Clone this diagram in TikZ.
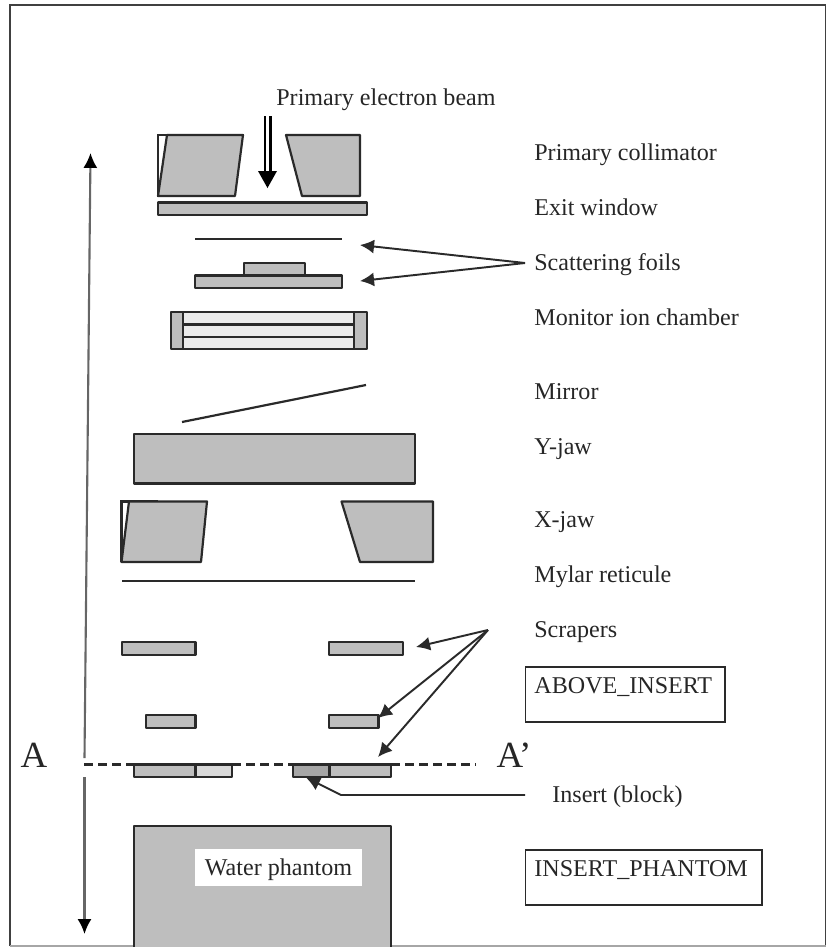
\documentclass[tikz,border=0pt]{standalone}
\usepackage{fontspec}
\setmainfont{Liberation Serif}
\usetikzlibrary{arrows.meta,positioning,calc}
\definecolor{partgray}{HTML}{BEBEBE}
\definecolor{inklines}{HTML}{2A2A2A}
\tikzset{
  part/.style={draw=inklines,line width=1.25pt,fill=partgray,line join=round},
  foilline/.style={draw=inklines,line width=1.25pt},
  lbl/.style={anchor=west,inner xsep=.2cm,inner ysep=0pt,text height=9pt,text depth=3pt,font=\fontsize{13.7}{16}\selectfont,text=black!85},
  lblbox/.style={draw=inklines,line width=1.1pt,align=left,anchor=west,inner xsep=.18cm,inner ysep=0pt,text height=.52cm,text depth=.58cm,font=\fontsize{13.7}{16}\selectfont,text=black!85},
  ptr/.style={draw=inklines,line width=1.1pt,-{Latex[length=8pt,width=8pt]}},
  depthptr/.style={draw=black!60,line width=1.2pt,-{Latex[length=8.5pt,width=8pt,color=black]}},
}
\begin{document}
\begin{tikzpicture}[x=.02cm,y=-.02cm]
    \useasboundingbox (0,0) rectangle (826,947);
    % frame
    \draw[line width=1.1pt,black!75] (10,946) -- (10,5) -- (825.5,5) -- (825.5,946);
    \draw[line width=.8pt,black!35] (10,946) -- (825.5,946);

    % beam
    \node[lbl,inner xsep=0pt] (beam) at (276,100) {Primary electron beam};
    \coordinate (beamtip) at (267.5,188);
    \draw[line width=1.2pt] (265,116) -- (265,172);
    \draw[line width=1.2pt] (270.5,116) -- (270.5,172);
    \fill (258,171) -- (277,171) -- (beamtip) -- cycle;

    % primary collimator
    \draw[foilline] (158,197) -- (158,135) -- (195,135);
    \draw[part] (158,196) -- (167,135) -- (243,135) -- (235,196) -- cycle;
    \draw[part] (286,135) -- (360,135) -- (360,196) -- (302,196) -- cycle;
    \draw[part] (158,202.5) rectangle (367,215);

    % foils
    \coordinate (foilupl) at (195,239);
    \coordinate (foilupr) at (342,239);
    \draw[foilline] (foilupl) -- (foilupr);
    \draw[part] (244,263) rectangle (305,275.5);
    \draw[part] (195,275.5) rectangle (342,288);

    % chamber
    \draw[part,fill=black!8] (183,312) rectangle (354,324.5);
    \draw[part,fill=black!8] (183,324.5) rectangle (354,337);
    \draw[part,fill=black!8] (183,337) rectangle (354,349);
    \draw[part] (171,312) rectangle (183,349);
    \draw[part] (354,312) rectangle (367,349);

    % mirror
    \coordinate (mirrorl) at (182,422);
    \coordinate (mirrorr) at (366,385);
    \draw[foilline] (mirrorl) -- (mirrorr);

    % jaws
    \draw[part] (134,434) rectangle (415,483.5);
    \draw[foilline] (121.5,562) -- (121.5,501.5) -- (158,501.5);
    \draw[part] (121.5,562) -- (129,501.5) -- (207,501.5) -- (201,562) -- cycle;
    \draw[part] (341.5,501.5) -- (433,501.5) -- (433,562) -- (360,562) -- cycle;

    % reticule
    \coordinate (mylarl) at (122,581);
    \coordinate (mylarr) at (415,581);
    \draw[foilline] (mylarl) -- (mylarr);

    % scrapers
    \draw[part] (122,642) rectangle (195.5,655);
    \draw[part] (329,642) rectangle (403,655);
    \draw[part] (146,715) rectangle (195.5,728);
    \draw[part] (329,715) rectangle (378.5,728);
    \draw[part] (134,764.5) rectangle (195.5,777);
    \draw[part,fill=black!15] (195.5,764.5) rectangle (232,777);
    \draw[part,fill=black!35] (293,764.5) rectangle (329.5,777);
    \draw[part] (329.5,764.5) rectangle (391,777);

    % section line
    \node[font=\fontsize{21}{24}\selectfont,text=black!85] (secA) at (34,755) {A};
    \node[font=\fontsize{21}{24}\selectfont,text=black!85] (secB) at (514,755) {A’};
    \coordinate (secl) at (84,764.5);
    \coordinate (secr) at (476,764.5);
    \draw[foilline,dash pattern=on 5pt off 3pt] (secl) -- (134,764.5);
    \draw[foilline,dash pattern=on 5pt off 3pt] (232,764.5) -- (293,764.5);
    \draw[foilline,dash pattern=on 5pt off 3pt] (391,764.5) -- (secr);

    % phantom
    \draw[part] (134,947) -- (134,826) -- (391,826) -- (391,947);
    \node[fill=white,minimum width=3.34cm,minimum height=.74cm,inner sep=0pt,text height=12pt,text depth=2.4pt,font=\fontsize{13.7}{16}\selectfont,text=black!85] (water) at (278.5,867.5) {Water phantom};

    % depth arrows
    \coordinate (depthup) at (90.5,153);
    \coordinate (depthmid) at (84.5,758);
    \coordinate (depthlow) at (84.5,777);
    \coordinate (depthend) at (84.5,934);
    \draw[depthptr] (depthmid) -- (depthup);
    \draw[depthptr] (depthlow) -- (depthend);

    % labels
    \node[lbl] (primcoll) at (524,155) {Primary collimator};
    \node[lbl] (exitwin) at (524,210) {Exit window};
    \node[lbl] (scatt) at (524,265) {Scattering foils};
    \node[lbl] (monitor) at (524,320) {Monitor ion chamber};
    \node[lbl] (mirror) at (524,394) {Mirror};
    \node[lbl] (yjaw) at (524,449) {Y-jaw};
    \node[lbl] (xjaw) at (524,522) {X-jaw};
    \node[lbl] (mylar) at (524,577) {Mylar reticule};
    \node[lbl] (scrap) at (524,632) {Scrapers};
    \node[lbl] (insert) at (542,797) {Insert (block)};
    \node[lblbox,text width=3.64cm] (aboveins) at (524.5,694.5) {ABOVE\_INSERT};
    \node[lblbox,text width=4.38cm] (insphant) at (524.5,877.5) {INSERT\_PHANTOM};

    % pointers
    \coordinate (scattfan) at (525,263);
    \coordinate (foiltipa) at (360,245);
    \coordinate (foiltipb) at (360,281);
    \draw[ptr] (scattfan) -- (foiltipa);
    \draw[ptr] (scattfan) -- (foiltipb);
    \coordinate (scrapfan) at (488,630);
    \coordinate (scraptipa) at (416,647);
    \coordinate (scraptipb) at (378,718);
    \coordinate (scraptipc) at (378,757);
    \draw[ptr] (scrapfan) -- (scraptipa);
    \draw[ptr] (scrapfan) -- (scraptipb);
    \draw[ptr] (scrapfan) -- (scraptipc);
    \coordinate (insend) at (525,795);
    \coordinate (insbend) at (341,795);
    \coordinate (instip) at (306,777.5);
    \draw[ptr] (insend) -- (insbend) -- (instip);
  \end{tikzpicture}
\end{document}
